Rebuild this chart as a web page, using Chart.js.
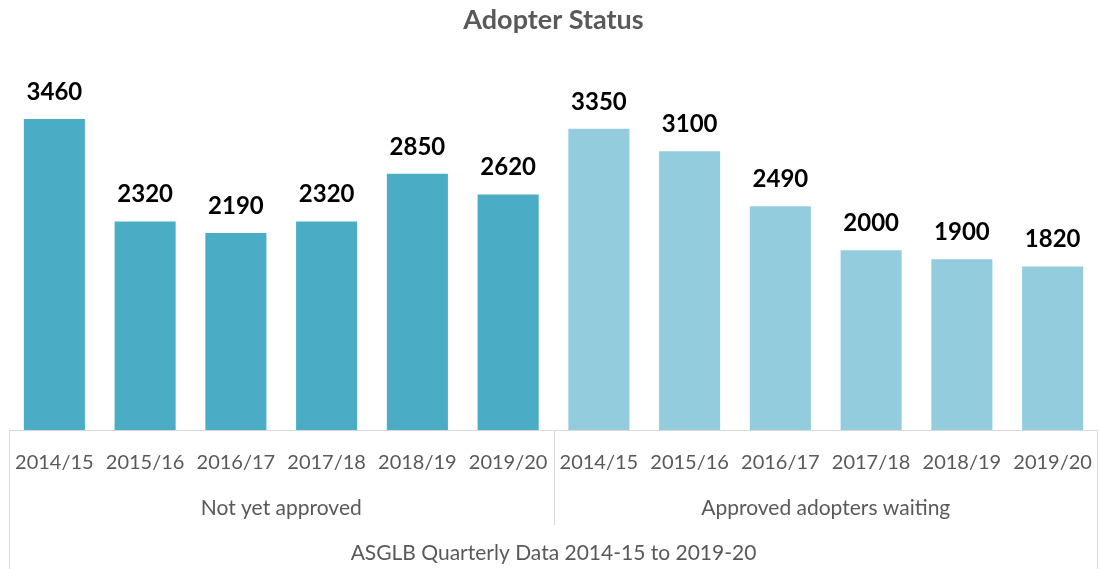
<!DOCTYPE html>
<html>
<head>
<meta charset="utf-8">
<title>Adopter Status</title>
<script src="https://cdn.jsdelivr.net/npm/chart.js@4/dist/chart.umd.min.js"></script>
<style>
    body { margin: 0; background: #fff; }
    #wrap { width: 1099px; height: 569px; }
</style>
</head>
<body>
<div id="wrap"><canvas id="chart" width="1099" height="569"></canvas></div>
<script>
// Data
const years = ['2014/15', '2015/16', '2016/17', '2017/18', '2018/19', '2019/20'];
const groups = ['Not yet approved', 'Approved adopters waiting'];
const notYetApproved = [3460, 2320, 2190, 2320, 2850, 2620];
const approvedWaiting = [3350, 3100, 2490, 2000, 1900, 1820];
const caption = 'ASGLB Quarterly Data 2014-15 to 2019-20';

const groupColors = ['#4BACC6', '#93CDDD'];
const labels = years.concat(years);
const values = notYetApproved.concat(approvedWaiting);
const barColors = values.map((v, i) => i < years.length ? groupColors[0] : groupColors[1]);

const FONT = 'Lato, "Open Sans", sans-serif';
const TEXT_GREY = '#595959';
const LINE_GREY = '#d9d9d9';

// Value labels above bars + the multi-level category axis
const annotate = {
    id: 'annotate',
    afterDatasetsDraw(chart) {
        const ctx = chart.ctx;
        const meta = chart.getDatasetMeta(0);
        ctx.save();
        ctx.font = 'bold 24px ' + FONT;
        ctx.fillStyle = '#000';
        ctx.textAlign = 'center';
        ctx.textBaseline = 'middle';
        meta.data.forEach((bar, i) => {
            ctx.fillText(String(values[i]), bar.x, bar.y - 27);
        });
        ctx.restore();
    },
    afterDraw(chart) {
        const ctx = chart.ctx;
        const area = chart.chartArea;
        const x = chart.scales.x;
        const half = (x.getPixelForValue(1) - x.getPixelForValue(0)) / 2;
        const split = x.getPixelForValue(years.length - 1) + half;
        const bottom = chart.height;

        ctx.save();
        ctx.strokeStyle = LINE_GREY;
        ctx.lineWidth = 1;
        ctx.beginPath();
        ctx.moveTo(area.left, area.bottom + 0.5);
        ctx.lineTo(area.right, area.bottom + 0.5);
        ctx.moveTo(area.left + 0.5, area.bottom);
        ctx.lineTo(area.left + 0.5, bottom);
        ctx.moveTo(area.right - 0.5, area.bottom);
        ctx.lineTo(area.right - 0.5, bottom);
        ctx.moveTo(Math.round(split) + 0.5, area.bottom);
        ctx.lineTo(Math.round(split) + 0.5, area.bottom + 95);
        ctx.stroke();

        ctx.font = '21px ' + FONT;
        ctx.fillStyle = TEXT_GREY;
        ctx.textAlign = 'center';
        ctx.textBaseline = 'middle';
        ctx.fillText(groups[0], (area.left + split) / 2, area.bottom + 78);
        ctx.fillText(groups[1], (split + area.right) / 2, area.bottom + 78);
        ctx.fillText(caption, (area.left + area.right) / 2, area.bottom + 123);
        ctx.restore();
    }
};

new Chart(document.getElementById('chart'), {
    type: 'bar',
    data: {
        labels: labels,
        datasets: [{
            data: values,
            backgroundColor: barColors,
            barPercentage: 0.673,
            categoryPercentage: 1
        }]
    },
    options: {
        responsive: false,
        animation: false,
        layout: { padding: { left: 9, right: 1, top: 0, bottom: 0 } },
        plugins: {
            legend: { display: false },
            tooltip: { enabled: false },
            title: {
                display: true,
                text: 'Adopter Status',
                color: TEXT_GREY,
                font: { family: FONT, size: 27, weight: 'bold' },
                padding: { top: 4, bottom: 34 }
            }
        },
        scales: {
            x: {
                grid: { display: false },
                border: { display: false },
                ticks: {
                    color: TEXT_GREY,
                    font: { family: FONT, size: 20 },
                    maxRotation: 0,
                    autoSkip: false,
                    padding: 13
                },
                afterFit(scale) {
                    scale.height = 139;
                    scale.paddingLeft = 0;
                    scale.paddingRight = 0;
                }
            },
            y: {
                display: false,
                min: 0,
                max: 4000
            }
        }
    },
    plugins: [annotate]
});
</script>
</body>
</html>
